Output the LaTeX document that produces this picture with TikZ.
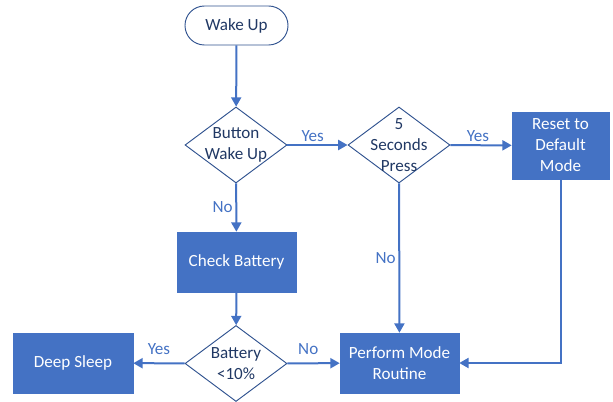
\documentclass[tikz,border=0pt]{standalone}
\usepackage{fontspec}
\setmainfont{Carlito}
\usepackage{xcolor}
\usetikzlibrary{shapes.geometric,arrows.meta,positioning}
\definecolor{C0}{RGB}{68,114,196}
\definecolor{C1}{RGB}{32,56,100}
\definecolor{C2}{RGB}{47,82,143}
% one centred line of a decision, kept from widening the diamond
\newcommand{\dline}[1]{\makebox[0pt]{#1}}

\begin{document}
\begin{tikzpicture}[x=0.75pt,y=-0.75pt,
  font=\fontsize{12.8}{15.7}\selectfont,
  proc/.style={rectangle,fill=C0,draw=C0,text=white,align=center,inner sep=0pt},
  decision/.style={diamond,draw=C2,line width=0.7pt,text=C1,align=center,inner sep=0pt,
    minimum width=76.5pt,minimum height=57pt},
  flow/.style={draw=C0,line width=1.5pt,-{Triangle[length=7pt,width=7.5pt]}},
  lbl/.style={text=C0,inner sep=2pt}]

  \useasboundingbox (0,0) rectangle (613,402);

  % Start.
  \node[rectangle,rounded corners=14.6pt,draw=C2,line width=0.7pt,text=C1,
    minimum width=77.25pt,minimum height=29.25pt] (wake) at (236.5,25.5) {Wake Up};

  % Decisions.
  \node[decision] (btn) at (236,145) {\dline{Button}\\\dline{Wake Up}};
  \node[decision] (sec) at (399,145) {\dline{5}\\\dline{Seconds}\\\dline{Press}};
  \node[decision] (batt) at (236,363.5) {\dline{Battery}\\\dline{<10\%}};

  % Process boxes.
  \node[proc,minimum width=72.75pt,minimum height=50.25pt] (reset) at (560.5,145.5) {Reset to\\Default\\Mode};
  \node[proc,minimum width=89.25pt,minimum height=45pt] (check) at (236.5,262) {Check Battery};
  \node[proc,minimum width=90pt,minimum height=45pt] (deep) at (73,363) {Deep Sleep};
  \node[proc,minimum width=89.25pt,minimum height=45pt] (perf) at (399.5,363) {Perform Mode\\Routine};

  % Connectors.
  \draw[flow] (wake) -- (btn);
  \draw[flow] (btn) -- node[lbl,above,pos=0.42] {Yes} (sec);
  \draw[flow] (sec) -- node[lbl,above,pos=0.45] {Yes} (reset);
  \draw[flow] (btn) -- node[lbl,left] {No} (check);
  \draw[flow] (sec) -- node[lbl,left] {No} (perf);
  \draw[flow] (check) -- (batt);
  \draw[flow] (batt) -- node[lbl,above,yshift=4pt] {Yes} (deep);
  \draw[flow] (batt) -- node[lbl,above,yshift=4pt,pos=0.4] {No} (perf);
  \draw[flow] (reset) |- (perf); % back from reset

\end{tikzpicture}
\end{document}
